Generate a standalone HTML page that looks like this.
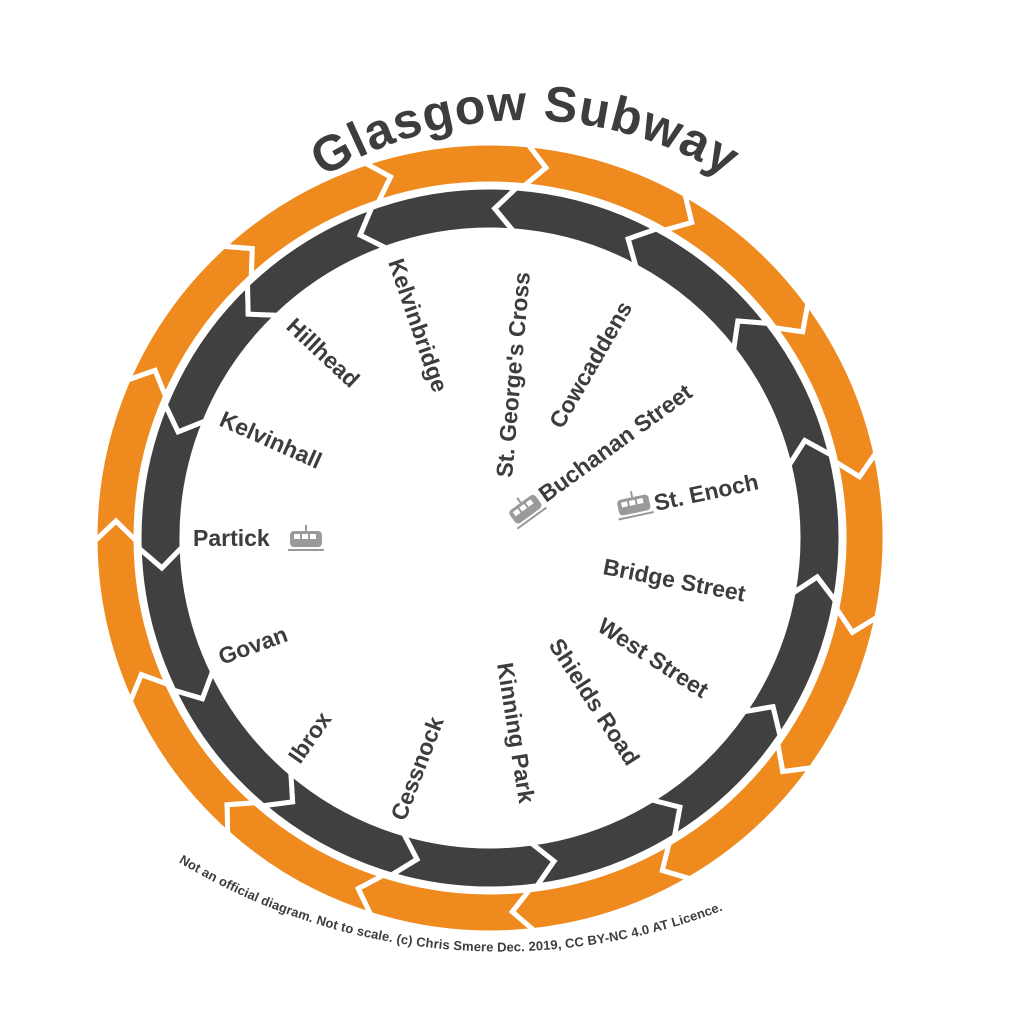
<!DOCTYPE html>
<html><head><meta charset="utf-8"><style>
html,body{margin:0;padding:0;background:#fff;}
svg{display:block}
text{font-family:"Liberation Sans","DejaVu Sans",sans-serif;font-weight:bold;fill:#3d3d3d;}
</style></head><body>
<svg id="s" width="1024" height="1024" viewBox="0 0 1024 1024" xmlns="http://www.w3.org/2000/svg">
<defs>
<path id="tp" d="M 140 505 A 385 385 0 0 1 910 505"/>
<path id="fp" d="M -39 640 A 622 622 0 0 0 1039 640"/>
<g id="train">
<rect x="-16" y="-9" width="32" height="16" rx="4" fill="#9a9a9a"/>
<rect x="-12" y="-6" width="6" height="5" fill="#fff"/><rect x="-4" y="-6" width="6" height="5" fill="#fff"/><rect x="4" y="-6" width="6" height="5" fill="#fff"/>
<line x1="-18" y1="10" x2="18" y2="10" stroke="#9a9a9a" stroke-width="2"/>
<line x1="0" y1="-9" x2="0" y2="-15" stroke="#9a9a9a" stroke-width="2"/>
</g>
</defs>
<g id="rings"></g>
<text font-size="50" letter-spacing="1"><textPath href="#tp" startOffset="50%" text-anchor="middle">Glasgow Subway</textPath></text>
<text font-size="13"><textPath href="#fp" startOffset="45.8%" text-anchor="middle" textLength="566" lengthAdjust="spacing">Not an official diagram. Not to scale. (c) Chris Smere Dec. 2019, CC BY-NC 4.0 AT Licence.</textPath></text>
<g font-size="23">
<text transform="translate(388,262) rotate(71)">Kelvinbridge</text>
<text transform="translate(512,478) rotate(-85)">St. George's Cross</text>
<text transform="translate(562,430) rotate(-60)">Cowcaddens</text>
<text transform="translate(546,503) rotate(-36)">Buchanan Street</text>
<text transform="translate(656,511) rotate(-12)">St. Enoch</text>
<text transform="translate(602,574) rotate(11)">Bridge Street</text>
<text transform="translate(596,630) rotate(33)">West Street</text>
<text transform="translate(548,645) rotate(57)">Shields Road</text>
<text transform="translate(497,664) rotate(81)">Kinning Park</text>
<text transform="translate(405,822) rotate(-69)">Cessnock</text>
<text transform="translate(300,765) rotate(-55)">Ibrox</text>
<text transform="translate(222,665) rotate(-20)">Govan</text>
<text transform="translate(193,546)">Partick</text>
<text transform="translate(218,425) rotate(24)">Kelvinhall</text>
<text transform="translate(285,328) rotate(43)">Hillhead</text>
</g>
<use href="#train" transform="translate(526,510) rotate(-36)"/>
<use href="#train" transform="translate(634,506) rotate(-12)"/>
<use href="#train" transform="translate(306,540)"/>
</svg>
<script>
(function(){
var cx=490,cy=538,g=document.getElementById('rings');
function P(r,a){a=a*Math.PI/180;return (cx+r*Math.sin(a)).toFixed(1)+' '+(cy-r*Math.cos(a)).toFixed(1);}
function seg(R,r,a0,a1,d,col){
 var m=(R+r)/2;
 var p='M '+P(R,a0)+' A '+R+' '+R+' 0 0 1 '+P(R,a1)+' L '+P(m,a1+d)+' L '+P(r,a1)+' A '+r+' '+r+' 0 0 0 '+P(r,a0)+' L '+P(m,a0+d)+' Z';
 var e=document.createElementNS('http://www.w3.org/2000/svg','path');
 e.setAttribute('d',p);e.setAttribute('fill',col);e.setAttribute('stroke','#fff');e.setAttribute('stroke-width','5');e.setAttribute('stroke-linejoin','miter');
 g.appendChild(e);
}
for(var i=0;i<15;i++){var a=5.6+i*24;seg(395,354,a-24,a,3,'#ee8a1e');}
for(var i=0;i<15;i++){var a=4.3+i*24;seg(351,308,a,a+24,-3.5,'#404040');}
})();
</script>
</body></html>
